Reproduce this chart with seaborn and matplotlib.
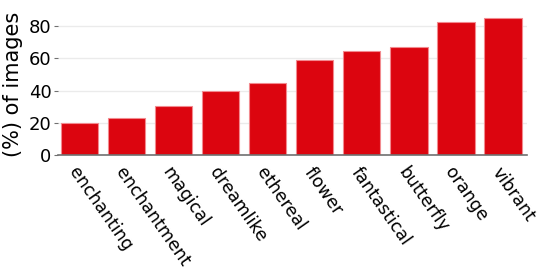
#!/usr/bin/env python

import matplotlib
matplotlib.use("Agg")
import matplotlib.pyplot as plt
import seaborn as sns
import pandas as pd

sns.set_style("white")
plt.rcParams["text.color"] = "black"
plt.rcParams["axes.labelcolor"] = "black"
plt.rcParams["xtick.color"] = "black"
plt.rcParams["ytick.color"] = "black"

words = ["enchanting", "enchantment", "magical", "dreamlike", "ethereal",
         "flower", "fantastical", "butterfly", "orange", "vibrant"]
percent = [20.0, 22.9, 30.2, 39.7, 44.6, 58.9, 64.5, 66.8, 82.3, 84.8]
yticks = [0, 20, 40, 60, 80]


def main():
    df = pd.DataFrame({"word": words, "pct": percent})

    fig = plt.figure(figsize=(5.55, 2.78), dpi=100)
    ax = fig.add_axes([0.105, 0.442, 0.845, 0.511])

    sns.barplot(data=df, x="word", y="pct", color="#dc050f", saturation=1,
                width=0.8, edgecolor="#f28a8f", linewidth=0.8, ax=ax)

    ax.set_ylim(0, 88)
    ax.set_xlim(-0.45, len(words) - 0.48)
    ax.set_yticks(yticks)
    ax.yaxis.grid(True, color="#ebebeb", linewidth=1)
    ax.set_axisbelow(True)
    for s in ["top", "right", "left"]:
        ax.spines[s].set_visible(False)
    ax.spines["bottom"].set_color("#707070")
    ax.spines["bottom"].set_linewidth(1.2)

    ax.tick_params(axis="y", left=True, length=3, width=0.8, color="#707070",
                   labelcolor="black", labelsize=13, pad=2)
    ax.tick_params(axis="x", bottom=False, labelcolor="black", labelsize=12.5, pad=3)
    ax.set_xlabel("")
    ax.set_ylabel("(%) of images", fontsize=15, labelpad=4, color="black")
    plt.setp(ax.get_xticklabels(), rotation=-55, ha="left", va="top",
             rotation_mode="anchor")

    fig.savefig("out.png", dpi=100)


if __name__ == "__main__":
    main()
